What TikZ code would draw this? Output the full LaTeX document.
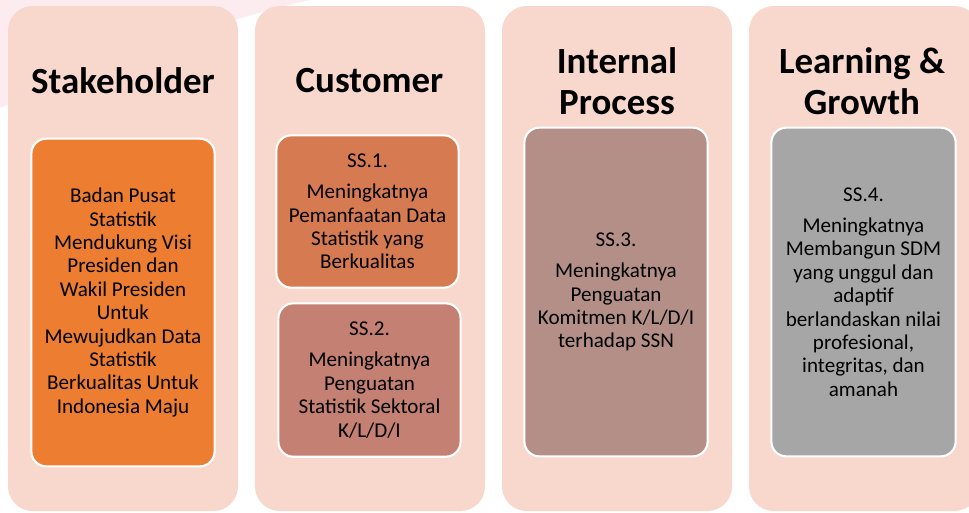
\documentclass[tikz,border=0pt]{standalone}
\usepackage{fontspec}
\setmainfont{Carlito}
\usetikzlibrary{positioning}
\definecolor{colbg}{RGB}{248,215,205}
\definecolor{swoosh}{RGB}{252,236,240}
\definecolor{stakeorange}{RGB}{237,125,49}
\definecolor{ssone}{RGB}{214,122,82}
\definecolor{sstwo}{RGB}{196,128,114}
\definecolor{ssthree}{RGB}{180,143,136}
\definecolor{ssfour}{RGB}{166,166,166}

\begin{document}
\begin{tikzpicture}[x=0.02cm,y=-0.02cm,
  column/.style={fill=colbg,rounded corners=14pt},
  header/.style={font=\fontsize{21}{23}\selectfont\bfseries,align=center},
  goal/.style={draw=white,line width=1.2pt,rounded corners=8.5pt,inner sep=0pt,
    align=center,font=\fontsize{12}{13.3}\selectfont}]
  \useasboundingbox (0,0) rectangle (969,512);

  % Background swoosh
  \fill[swoosh] (0,0) -- (0,108) .. controls (90,70) and (200,25) .. (310,0) -- cycle;

  % Columns
  \foreach \x in {8,255,502,749} {
    \fill[column] (\x,6) rectangle ++(230,505);
  }

  % Headers
  \node[header] (stakehead) at (123,80.5) {Stakeholder};
  \node[header] (custhead) at (369.5,80.5) {Customer};
  \node[header] (prochead) at (617,81) {Internal\\Process};
  \node[header] (learnhead) at (862,81) {Learning \&\\Growth};

  % Strategic goals
  \node[goal,fill=stakeorange,minimum width=104.3pt,minimum height=186.5pt] (stake) at (123,302.5)
    {Badan Pusat\\Statistik\\Mendukung Visi\\Presiden dan\\Wakil Presiden\\Untuk\\Mewujudkan Data\\Statistik\\Berkualitas Untuk\\Indonesia Maju};
  \node[goal,fill=ssone,minimum width=103.7pt,minimum height=86.7pt] (ss1) at (367.5,211.5)
    {SS.1.\\[4.4pt]Meningkatnya\\Pemanfaatan Data\\Statistik yang\\Berkualitas};
  \node[goal,fill=sstwo,minimum width=103.7pt,minimum height=87.3pt] (ss2) at (369.5,380)
    {SS.2.\\[4.4pt]Meningkatnya\\Penguatan\\Statistik Sektoral\\K/L/D/I};
  \node[goal,fill=ssthree,minimum width=104.3pt,minimum height=187.1pt] (ss3) at (616,292)
    {SS.3.\\[4.4pt]Meningkatnya\\Penguatan\\Komitmen K/L/D/I\\terhadap SSN};
  \node[goal,fill=ssfour,minimum width=104.9pt,minimum height=187.1pt] (ss4) at (863.5,292)
    {SS.4.\\[4.4pt]Meningkatnya\\Membangun SDM\\yang unggul dan\\adaptif\\berlandaskan nilai\\profesional,\\integritas, dan\\amanah};

\end{tikzpicture}
\end{document}
